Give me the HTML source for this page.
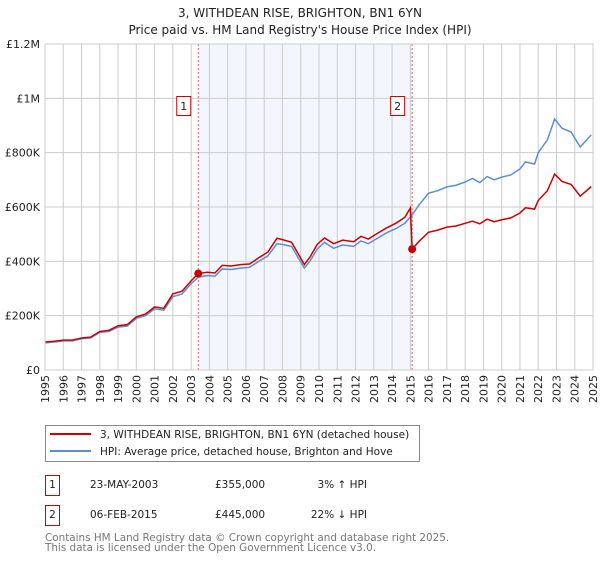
<!DOCTYPE html>
<html><head><meta charset="utf-8"><style>
body{margin:0;background:#fff;font-family:"DejaVu Sans","Liberation Sans",sans-serif;}
svg text{font-family:"DejaVu Sans","Liberation Sans",sans-serif;}
</style></head><body>
<svg id="c" width="600" height="560" viewBox="0 0 600 560" xmlns="http://www.w3.org/2000/svg">
<text x="300" y="17" text-anchor="middle" font-size="12" fill="#222">3, WITHDEAN RISE, BRIGHTON, BN1 6YN</text>
<text x="300" y="34" text-anchor="middle" font-size="12" fill="#222">Price paid vs. HM Land Registry's House Price Index (HPI)</text>
<g id="plot"></g>
<g>
<rect x="45.5" y="425.5" width="374" height="36" fill="#fff" stroke="#888"/>
<line x1="50" y1="434" x2="91" y2="434" stroke="#cc0000" stroke-width="2"/>
<text x="100" y="438" font-size="10.5" fill="#222">3, WITHDEAN RISE, BRIGHTON, BN1 6YN (detached house)</text>
<line x1="50" y1="451" x2="91" y2="451" stroke="#5b8fd0" stroke-width="2"/>
<text x="100" y="455" font-size="10.5" fill="#222">HPI: Average price, detached house, Brighton and Hove</text>
</g>
<g font-size="10.5" fill="#222">
<rect x="45.5" y="475.5" width="14" height="20" fill="#fff" stroke="#cc0000"/>
<text x="52.5" y="488" text-anchor="middle">1</text>
<text x="90" y="488">23-MAY-2003</text>
<text x="215" y="488">£355,000</text>
<text x="367" y="488" text-anchor="end">3% ↑ HPI</text>
<rect x="45.5" y="505.5" width="14" height="20" fill="#fff" stroke="#cc0000"/>
<text x="52.5" y="518" text-anchor="middle">2</text>
<text x="90" y="518">06-FEB-2015</text>
<text x="215" y="518">£445,000</text>
<text x="367" y="518" text-anchor="end">22% ↓ HPI</text>
</g>
<text x="45" y="541" font-size="10.4" fill="#777">Contains HM Land Registry data © Crown copyright and database right 2025.</text>
<text x="45" y="551" font-size="10.4" fill="#777">This data is licensed under the Open Government Licence v3.0.</text>
</svg>
<script>
const hpiYears=[1995,1995.5,1996,1996.5,1997,1997.5,1998,1998.5,1999,1999.5,2000,2000.5,2001,2001.5,2002,2002.5,2003,2003.4,2003.9,2004.3,2004.7,2005.2,2005.7,2006.2,2006.7,2007.2,2007.7,2008.0,2008.5,2008.8,2009.2,2009.5,2009.9,2010.3,2010.8,2011.3,2011.9,2012.3,2012.7,2013.2,2013.7,2014.2,2014.7,2015.1,2015.5,2016.0,2016.5,2017.0,2017.5,2018.0,2018.4,2018.8,2019.2,2019.6,2020.0,2020.5,2021.0,2021.3,2021.8,2022.0,2022.5,2022.9,2023.3,2023.8,2024.3,2024.9];
const hpiValues=[100,103,107,107,115,118,138,142,158,162,190,200,225,220,270,280,318,342,348,345,372,370,375,378,400,420,465,462,455,420,375,400,445,470,448,460,455,475,465,485,505,520,540,571,610,651,660,674,680,692,705,690,712,700,710,718,740,766,758,800,847,924,890,876,821,865];
const propYears=[1995,1995.5,1996,1996.5,1997,1997.5,1998,1998.5,1999,1999.5,2000,2000.5,2001,2001.5,2002,2002.5,2003,2003.39,2003.9,2004.3,2004.7,2005.2,2005.7,2006.2,2006.7,2007.2,2007.7,2008.0,2008.5,2008.8,2009.2,2009.5,2009.9,2010.3,2010.8,2011.3,2011.9,2012.3,2012.7,2013.2,2013.7,2014.2,2014.7,2015.0,2015.1,2015.5,2016.0,2016.5,2017.0,2017.5,2018.0,2018.4,2018.8,2019.2,2019.6,2020.0,2020.5,2021.0,2021.3,2021.8,2022.0,2022.5,2022.9,2023.3,2023.8,2024.3,2024.9];
const propValues=[103,106,110,110,118,121,142,146,163,167,196,206,232,227,280,290,328,355,360,357,385,383,388,390,413,434,485,480,470,435,388,415,462,486,465,478,472,492,482,503,523,540,562,596,445,475,507,515,526,530,540,548,538,555,546,553,560,578,597,592,624,660,721,694,683,640,675];
const sales=[{x:2003.39,v:355,label:"1"},{x:2015.1,v:445,label:"2"}];
const yTicks=[0,200,400,600,800,1000,1200];
const yLabels=["£0","£200K","£400K","£600K","£800K","£1M","£1.2M"];
const xTicks=[1995,1996,1997,1998,1999,2000,2001,2002,2003,2004,2005,2006,2007,2008,2009,2010,2011,2012,2013,2014,2015,2016,2017,2018,2019,2020,2021,2022,2023,2024,2025];

const NS="http://www.w3.org/2000/svg";
const X0=45,X1=593,Y0=370,Y1=44;
const sx=y=>X0+(y-1995)/30*(X1-X0);
const sy=v=>Y0-v/1200*(Y0-Y1);
const g=document.getElementById('plot');
function mk(t,a){const e=document.createElementNS(NS,t);for(const k in a)e.setAttribute(k,a[k]);g.appendChild(e);return e;}
let r=mk('rect',{x:sx(sales[0].x),y:Y1,width:sx(sales[1].x)-sx(sales[0].x),height:Y0-Y1,fill:'#f3f6fd'});


xTicks.forEach(t=>{const l=mk('line',{x1:sx(t),x2:sx(t),y1:Y1,y2:Y0,stroke:'#cccccc'});


const tx=mk('text',{x:0,y:0,'font-size':11,fill:'#222','text-anchor':'end',transform:`translate(${sx(t)+4},375) rotate(-90)`});
tx.textContent=t;

});
yTicks.forEach((t,i)=>{const l=mk('line',{x1:X0,x2:X1,y1:sy(t),y2:sy(t),stroke:'#cccccc'});


const tx=mk('text',{x:40,y:sy(t)+4,'font-size':11,fill:'#222','text-anchor':'end'});
tx.textContent=yLabels[i];

});
sales.forEach(s=>{const l=mk('line',{x1:sx(s.x),x2:sx(s.x),y1:Y1,y2:Y0,stroke:'#e06060','stroke-dasharray':'2,2'});

});
const hp=mk('polyline',{points:hpiYears.map((y,i)=>sx(y)+','+sy(hpiValues[i])).join(' '),fill:'none',stroke:'#5b8fd0','stroke-width':1.5});


const pp=mk('polyline',{points:propYears.map((y,i)=>sx(y)+','+sy(propValues[i])).join(' '),fill:'none',stroke:'#cc0000','stroke-width':1.5});


sales.forEach(s=>{const c=mk('circle',{cx:sx(s.x),cy:sy(s.v),r:4,fill:'#cc0000'});


const b=mk('rect',{x:sx(s.x)-21.5,y:96.5,width:14,height:19,fill:'#fff',stroke:'#cc0000'});


const t=mk('text',{x:sx(s.x)-14.5,y:110,'font-size':11,fill:'#222','text-anchor':'middle'});
t.textContent=s.label;

});
const ax=mk('rect',{x:X0,y:Y1,width:X1-X0,height:Y0-Y1,fill:'none',stroke:'#cccccc'});


</script>
</body></html>
